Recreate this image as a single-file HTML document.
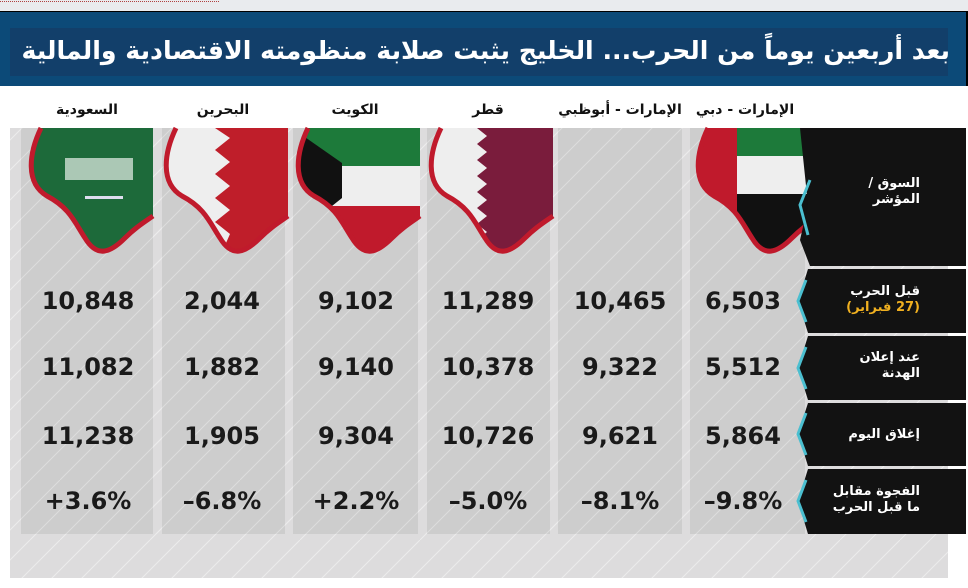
<!DOCTYPE html>
<html><head><meta charset="utf-8"><style>
html,body{margin:0;padding:0;background:#fff;}
svg{display:block}
text{font-family:"DejaVu Sans","Liberation Sans",sans-serif;}
.t{position:absolute;direction:rtl;font-family:"DejaVu Sans",sans-serif;font-weight:bold;white-space:nowrap;}
.lab{position:absolute;right:48px;direction:rtl;text-align:right;color:#fff;font-family:"DejaVu Sans",sans-serif;font-weight:bold;font-size:13px;line-height:16px;}
</style></head><body>
<div style="position:relative;width:968px;height:588px;overflow:hidden">
<svg width="968" height="588" viewBox="0 0 968 588" xmlns="http://www.w3.org/2000/svg">
<defs>
<clipPath id="fc"><path d="M16,0 C4,25 0,55 22,68 C45,80 50,95 60,110 C72,130 85,125 100,110 C110,100 118,95 128,88 L128,0 Z"/></clipPath>
<pattern id="pat" width="60" height="60" patternUnits="userSpaceOnUse">
<path d="M0,60 L60,0 M-10,40 L30,0 M30,60 L70,20" stroke="#ececec" stroke-width="1" fill="none"/>
</pattern>
</defs>
<rect x="0" y="0" width="968" height="11" fill="#e9ebee"/>
<line x1="0" y1="1.5" x2="220" y2="1.5" stroke="#b04040" stroke-dasharray="1,1"/>
<rect x="0" y="11" width="968" height="1.5" fill="#000"/>
<rect x="0" y="12" width="966" height="74" fill="#0c4a78"/>
<rect x="966" y="12" width="2" height="74" fill="#000"/>
<rect x="10" y="28" width="938" height="48" fill="#123f6a"/>

<g font-size="14" font-weight="bold" fill="#111" text-anchor="middle">
<text x="87" y="114">السعودية</text>
<text x="223" y="114">البحرين</text>
<text x="355" y="114">الكويت</text>
<text x="488" y="114">قطر</text>
<text x="620" y="114">الإمارات - أبوظبي</text>
<text x="745" y="114">الإمارات - دبي</text>
</g>

<rect x="10" y="128" width="938" height="450" fill="#dddcdd"/>
<rect x="10" y="128" width="938" height="450" fill="url(#pat)"/>
<g fill="#cdcdcd">
<rect x="21" y="128" width="132" height="406"/>
<rect x="162" y="128" width="123" height="406"/>
<rect x="293" y="128" width="125" height="406"/>
<rect x="427" y="128" width="123" height="406"/>
<rect x="558" y="128" width="124" height="406"/>
<rect x="690" y="128" width="115" height="406"/>
</g>
<g opacity="0.5"><rect x="21" y="128" width="784" height="406" fill="url(#pat)"/></g>

<g transform="translate(25,128)"><g clip-path="url(#fc)">
<rect width="128" height="140" fill="#1d6a3a"/>
<rect x="40" y="30" width="68" height="22" fill="#cfe0d4" opacity="0.8"/>
<rect x="60" y="68" width="38" height="3" fill="#dde"/>
</g><path d="M16,0 C4,25 0,55 22,68 C45,80 50,95 60,110 C72,130 85,125 100,110 C110,100 118,95 128,88" fill="none" stroke="#c01a2c" stroke-width="5"/></g>
<g transform="translate(160,128)"><g clip-path="url(#fc)">
<rect width="128" height="140" fill="#bf1e2a"/>
<path d="M0,0 L55,0 L70,10 L55,22 L70,34 L55,46 L70,58 L55,70 L70,82 L55,94 L70,106 L55,140 L0,140 Z" fill="#eeeeee"/>
</g><path d="M16,0 C4,25 0,55 22,68 C45,80 50,95 60,110 C72,130 85,125 100,110 C110,100 118,95 128,88" fill="none" stroke="#c01a2c" stroke-width="5"/></g>
<g transform="translate(292,128)"><g clip-path="url(#fc)">
<rect width="128" height="140" fill="#eeeeee"/>
<rect width="128" height="38" fill="#1d7a3a"/>
<rect y="78" width="128" height="62" fill="#c01a2c"/>
<path d="M0,0 L50,35 L50,70 L0,110 Z" fill="#111"/>
</g><path d="M16,0 C4,25 0,55 22,68 C45,80 50,95 60,110 C72,130 85,125 100,110 C110,100 118,95 128,88" fill="none" stroke="#c01a2c" stroke-width="5"/></g>
<g transform="translate(425,128)"><g clip-path="url(#fc)">
<rect width="128" height="140" fill="#7a1c3c"/>
<path d="M0,0 L52,0 L62,8 L52,16 L62,24 L52,32 L62,40 L52,48 L62,56 L52,64 L62,72 L52,80 L62,88 L52,96 L62,104 L52,112 L52,140 L0,140 Z" fill="#eeeeee"/>
</g><path d="M16,0 C4,25 0,55 22,68 C45,80 50,95 60,110 C72,130 85,125 100,110 C110,100 118,95 128,88" fill="none" stroke="#c01a2c" stroke-width="5"/></g>
<g transform="translate(692,128)"><g clip-path="url(#fc)">
<rect width="128" height="140" fill="#eeeeee"/>
<rect x="40" width="88" height="28" fill="#1d7a3a"/>
<rect x="40" y="66" width="88" height="74" fill="#111"/>
<rect width="45" height="140" fill="#c01a2c"/>
</g><path d="M16,0 C4,25 0,55 22,68 C45,80 50,95 60,110 C72,130 85,125 100,110 C110,100 118,95 128,88" fill="none" stroke="#c01a2c" stroke-width="5"/></g>

<g fill="#121212">
<path d="M800,128 L966,128 L966,266 L810,266 L800,240 L808,205 Z"/>
<path d="M808,269 L966,269 L966,333 L808,333 L798,301 Z"/>
<path d="M808,336 L966,336 L966,400 L808,400 L798,368 Z"/>
<path d="M808,403 L966,403 L966,466 L808,466 L798,434 Z"/>
<path d="M808,469 L966,469 L966,534 L808,534 L798,501 Z"/>
</g>
<g stroke="#4bbfd0" stroke-width="3" fill="none">
<path d="M810,180 L800,205 L808,235"/>
<path d="M806,280 L798,301 L806,322"/>
<path d="M806,347 L798,368 L806,389"/>
<path d="M806,413 L798,434 L806,455"/>
<path d="M806,480 L798,501 L806,522"/>
</g>

<g font-family="Liberation Sans" font-size="24" font-weight="bold" fill="#1a1a1a" text-anchor="middle">
<text x="88" y="309">10,848</text><text x="222" y="309">2,044</text><text x="356" y="309">9,102</text><text x="488" y="309">11,289</text><text x="620" y="309">10,465</text><text x="743" y="309">6,503</text>
<text x="88" y="375">11,082</text><text x="222" y="375">1,882</text><text x="356" y="375">9,140</text><text x="488" y="375">10,378</text><text x="620" y="375">9,322</text><text x="743" y="375">5,512</text>
<text x="88" y="444">11,238</text><text x="222" y="444">1,905</text><text x="356" y="444">9,304</text><text x="488" y="444">10,726</text><text x="620" y="444">9,621</text><text x="743" y="444">5,864</text>
<text x="88" y="509">+3.6%</text><text x="222" y="509">–6.8%</text><text x="356" y="509">+2.2%</text><text x="488" y="509">–5.0%</text><text x="620" y="509">–8.1%</text><text x="743" y="509">–9.8%</text>
</g>
</svg>
<div class="t" style="right:18px;top:31px;color:#fff;font-size:25.2px;line-height:40px;">بعد أربعين يوماً من الحرب... الخليج يثبت صلابة منظومته الاقتصادية والمالية</div>
<div class="lab" style="top:176px">السوق /<br>المؤشر</div>
<div class="lab" style="top:284px">قبل الحرب<br><span style="color:#f0b020">(27 فبراير)</span></div>
<div class="lab" style="top:350px">عند إعلان<br>الهدنة</div>
<div class="lab" style="top:427px">إغلاق اليوم</div>
<div class="lab" style="top:484px">الفجوة مقابل<br>ما قبل الحرب</div>
</div>
</body></html>
